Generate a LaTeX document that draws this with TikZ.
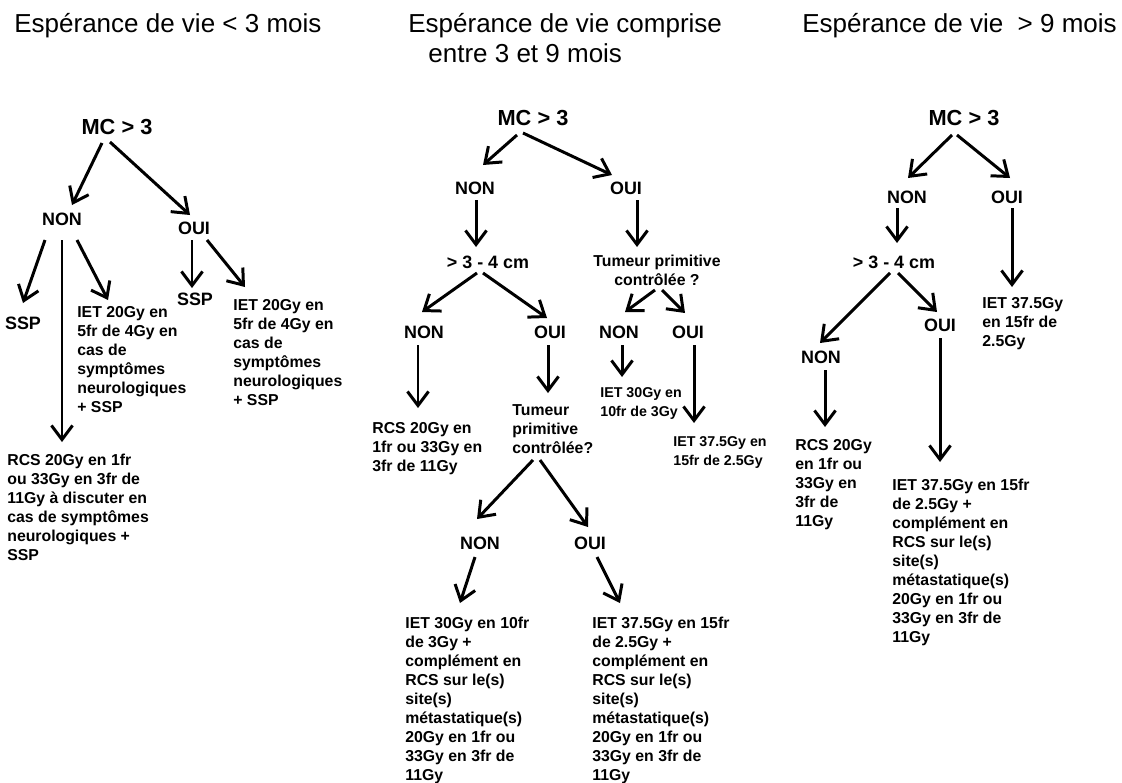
\documentclass[tikz,border=0pt]{standalone}
\usepackage{fontspec}
\setmainfont{Liberation Sans}
\usetikzlibrary{arrows.meta,calc}
\begin{document}
\begin{tikzpicture}[x=0.02cm,y=-0.02cm,
  ttl/.style={font=\fontsize{14.8}{17}\selectfont, inner sep=0, anchor=base west},
  mc/.style={font=\bfseries\fontsize{12.4}{14}\selectfont, inner sep=0},
  lbl/.style={font=\bfseries\fontsize{10.2}{12}\selectfont, inner sep=0},
  txt/.style={font=\bfseries\fontsize{9}{10.8}\selectfont, inner sep=0, anchor=north west, align=left},
  stxt/.style={font=\bfseries\fontsize{8.1}{11}\selectfont, inner sep=0, anchor=north west, align=left},
  arr/.style={line width=1.7pt, -{Straight Barb[length=8pt,width=12pt]}}]
\fill[white] (0,0) rectangle (1122,782);
\useasboundingbox (0,0) rectangle (1122,782);

% titles
\node[ttl] (T1) at (14,32) {Espérance de vie < 3 mois};
\node[ttl] (T2a) at (408,32) {Espérance de vie comprise};
\node[ttl] (T2b) at (428,62) {entre 3 et 9 mois};
\node[ttl] (T3) at (802,32) {Espérance de vie \ > 9 mois};

% ---------- panel 1 ----------
\node[mc] (MC1) at (117,127) {MC > 3};
\node[lbl] (NON1) at (62,219) {NON};
\node[lbl] (OUI1) at (194,228) {OUI};
\node[lbl] (SSPa) at (23,323) {SSP};
\node[lbl] (SSPb) at (195,299) {SSP};
\node[txt] (IETa) at (77,306) {IET 20Gy en\\5fr de 4Gy en\\cas de\\symptômes\\neurologiques\\+ SSP};
\node[txt] (IETb) at (233,299) {IET 20Gy en\\5fr de 4Gy en\\cas de\\symptômes\\neurologiques\\+ SSP};
\node[txt] (RCSa) at (7,454) {RCS 20Gy en 1fr\\ou 33Gy en 3fr de\\11Gy à discuter en\\cas de symptômes\\neurologiques +\\SSP};

\draw[arr] ($(MC1)+(-15,16)$) -- ($(NON1)+(10,-14)$);
\draw[arr] ($(MC1)+(-7,15)$) -- ($(OUI1)+(-4,-13)$);
\draw[arr] ($(NON1)+(-17,21)$) -- ($(SSPa)+(0,-20)$);
\draw[arr] ($(NON1)+(0,21)$) -- ($(RCSa.north west)+(55,-12)$);
\draw[arr] ($(NON1)+(15,21)$) -- ($(IETa.north west)+(31,-6)$);
\draw[arr] ($(OUI1)+(-2,12)$) -- ($(SSPb)+(-3,-11)$);
\draw[arr] ($(OUI1)+(13,12)$) -- ($(IETb.north west)+(12,-12)$);

% ---------- panel 2 ----------
\node[mc] (MC2) at (533,118) {MC > 3};
\node[lbl] (NON2) at (475,188) {NON};
\node[lbl] (OUI2) at (626,188) {OUI};
\node[lbl] (CM2) at (488,262) {> 3 - 4 cm};
\node[lbl, font=\bfseries\fontsize{9}{10.8}\selectfont, align=center] (TP2) at (657,270) {Tumeur primitive\\contrôlée ?};
\node[lbl] (NON2a) at (424,332) {NON};
\node[lbl] (OUI2a) at (550,332) {OUI};
\node[lbl] (NON2b) at (619,332) {NON};
\node[lbl] (OUI2b) at (688,332) {OUI};
\node[txt] (RCS2) at (372,422) {RCS 20Gy en\\1fr ou 33Gy en\\3fr de 11Gy};
\node[txt] (TP2b) at (512,404) {Tumeur\\primitive\\contrôlée?};
\node[stxt] (IET2a) at (600,387) {IET 30Gy en\\10fr de 3Gy};
\node[stxt] (IET2b) at (673,436) {IET 37.5Gy en\\15fr de 2.5Gy};
\node[lbl] (NON2c) at (480,543) {NON};
\node[lbl] (OUI2c) at (590,543) {OUI};
\node[txt] (BIG2a) at (405,617) {IET 30Gy en 10fr\\de 3Gy +\\complément en\\RCS sur le(s)\\site(s)\\métastatique(s)\\20Gy en 1fr ou\\33Gy en 3fr de\\11Gy};
\node[txt] (BIG2b) at (592,617) {IET 37.5Gy en 15fr\\de 2.5Gy +\\complément en\\RCS sur le(s)\\site(s)\\métastatique(s)\\20Gy en 1fr ou\\33Gy en 3fr de\\11Gy};

\draw[arr] ($(MC2)+(-16,17)$) -- ($(NON2)+(8,-23)$);
\draw[arr] ($(MC2)+(-10,15)$) -- ($(OUI2)+(-14,-13)$);
\draw[arr] ($(NON2)+(1,12)$) -- ($(CM2)+(-12,-15)$);
\draw[arr] ($(OUI2)+(11,12)$) -- ($(TP2)+(-20,-23)$);
\draw[arr] ($(CM2)+(-11,11)$) -- ($(NON2a)+(-2,-20)$);
\draw[arr] ($(CM2)+(-5,11)$) -- ($(OUI2a)+(-3,-14)$);
\draw[arr] ($(TP2)+(-2,20)$) -- ($(NON2b)+(6,-20)$);
\draw[arr] ($(TP2)+(5,20)$) -- ($(OUI2b)+(-3,-19)$);
\draw[arr] ($(NON2a)+(-6,13)$) -- ($(RCS2.north west)+(46,-14)$);
\draw[arr] ($(OUI2a)+(-2,13)$) -- ($(TP2b.north west)+(36,-11)$);
\draw[arr] ($(NON2b)+(3,13)$) -- ($(IET2a.north west)+(22,-10)$);
\draw[arr] ($(OUI2b)+(6,13)$) -- ($(IET2b.north west)+(21,-13)$);
\draw[arr] ($(TP2b.north west)+(21,56)$) -- ($(NON2c)+(-3,-24)$);
\draw[arr] ($(TP2b.north west)+(28,56)$) -- ($(OUI2c)+(-2,-16)$);
\draw[arr] ($(NON2c)+(-5,14)$) -- ($(BIG2a.north west)+(55,-14)$);
\draw[arr] ($(OUI2c)+(7,14)$) -- ($(BIG2b.north west)+(28,-14)$);

% ---------- panel 3 ----------
\node[mc] (MC3) at (964,118) {MC > 3};
\node[lbl] (NON3) at (907,197) {NON};
\node[lbl] (OUI3) at (1007,197) {OUI};
\node[lbl] (CM3) at (894,262) {> 3 - 4 cm};
\node[txt] (IET3a) at (982,297) {IET 37.5Gy\\en 15fr de\\2.5Gy};
\node[lbl] (NON3a) at (821,357) {NON};
\node[lbl] (OUI3a) at (940,325) {OUI};
\node[txt] (RCS3) at (795,439) {RCS 20Gy\\en 1fr ou\\33Gy en\\3fr de\\11Gy};
\node[txt] (IET3b) at (892,479) {IET 37.5Gy en 15fr\\de 2.5Gy +\\complément en\\RCS sur le(s)\\site(s)\\métastatique(s)\\20Gy en 1fr ou\\33Gy en 3fr de\\11Gy};

\draw[arr] ($(MC3)+(-12,17)$) -- ($(NON3)+(1,-19)$);
\draw[arr] ($(MC3)+(-7,17)$) -- ($(OUI3)+(3,-19)$);
\draw[arr] ($(NON3)+(-10,11)$) -- ($(CM3)+(3,-19)$);
\draw[arr] ($(OUI3)+(5,11)$) -- ($(IET3a.north west)+(30,-10)$);
\draw[arr] ($(CM3)+(-4,11)$) -- ($(NON3a)+(-1,-14)$);
\draw[arr] ($(CM3)+(4,11)$) -- ($(OUI3a)+(-3,-13)$);
\draw[arr] ($(NON3a)+(4,13)$) -- ($(RCS3.north west)+(30,-12)$);
\draw[arr] ($(OUI3a)+(0,13)$) -- ($(IET3b.north west)+(48,-17)$);
\end{tikzpicture}
\end{document}
